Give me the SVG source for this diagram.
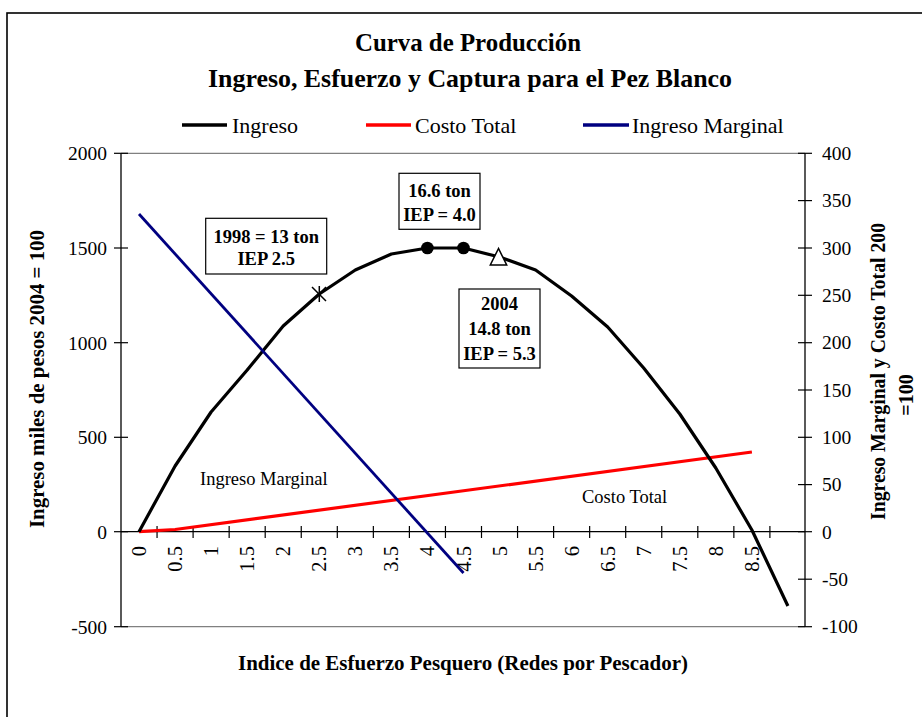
<svg xmlns="http://www.w3.org/2000/svg" width="922" height="717" viewBox="0 0 922 717">
<style>
text{font-family:"Liberation Serif","Times New Roman",serif;fill:#000}
.b{font-weight:bold}
.num{font-size:19.5px}
.xl{font-size:20.5px}
.lg{font-size:22px}
.box{fill:#fff;stroke:#000;stroke-width:1.2}
.bt{font-size:18.5px;font-weight:bold;text-anchor:middle}
.ax{stroke:#000;stroke-width:1.3;fill:none}
.gr{stroke:#808080;stroke-width:1.3;fill:none}
.tk{stroke:#000;stroke-width:1.2}
</style>
<rect x="7" y="13" width="930" height="730" fill="#fff" stroke="#000" stroke-width="1.6"/>
<g id="title">
<text class="b" x="468" y="51" font-size="25" text-anchor="middle" textLength="226" lengthAdjust="spacingAndGlyphs">Curva de Producción</text>
<text class="b" x="470" y="87" font-size="25" text-anchor="middle" textLength="524" lengthAdjust="spacingAndGlyphs">Ingreso, Esfuerzo y Captura para el Pez Blanco</text>
</g>
<g id="legend">
<line x1="182" y1="125" x2="227" y2="125" stroke="#000" stroke-width="3.5"/>
<text class="lg" x="232" y="133">Ingreso</text>
<line x1="366" y1="125" x2="411" y2="125" stroke="#ff0000" stroke-width="3.5"/>
<text class="lg" x="415" y="133">Costo Total</text>
<line x1="583" y1="125" x2="629" y2="125" stroke="#000080" stroke-width="3.5"/>
<text class="lg" x="632" y="133">Ingreso Marginal</text>
</g>
<g id="plot-frame">
<line class="gr" x1="121" y1="153.3" x2="805" y2="153.3"/>
<line class="gr" x1="121" y1="626.7" x2="805" y2="626.7"/>
<line class="ax" x1="121" y1="153.3" x2="121" y2="626.7"/>
<line class="ax" x1="805" y1="153.3" x2="805" y2="626.7"/>
<line class="ax" x1="121" y1="531.7" x2="805" y2="531.7"/>
</g>
<g id="left-axis">
<g class="tk">
<line x1="114" y1="153.3" x2="128" y2="153.3"/>
<line x1="114" y1="248" x2="128" y2="248"/>
<line x1="114" y1="342.7" x2="128" y2="342.7"/>
<line x1="114" y1="437.3" x2="128" y2="437.3"/>
<line x1="114" y1="531.7" x2="128" y2="531.7"/>
<line x1="114" y1="626.7" x2="128" y2="626.7"/>
</g>
<g class="num" text-anchor="end">
<text x="107" y="160">2000</text>
<text x="107" y="255">1500</text>
<text x="107" y="349.5">1000</text>
<text x="107" y="444">500</text>
<text x="107" y="538.5">0</text>
<text x="107" y="633.5">-500</text>
</g>
<text class="b" font-size="20" text-anchor="middle" transform="translate(44,379) rotate(-90)" textLength="298" lengthAdjust="spacingAndGlyphs">Ingreso miles de pesos 2004 = 100</text>
</g>
<g id="right-axis">
<g class="tk">
<line x1="798" y1="153.3" x2="812" y2="153.3"/>
<line x1="798" y1="200.6" x2="812" y2="200.6"/>
<line x1="798" y1="248" x2="812" y2="248"/>
<line x1="798" y1="295.3" x2="812" y2="295.3"/>
<line x1="798" y1="342.7" x2="812" y2="342.7"/>
<line x1="798" y1="390" x2="812" y2="390"/>
<line x1="798" y1="437.3" x2="812" y2="437.3"/>
<line x1="798" y1="484.6" x2="812" y2="484.6"/>
<line x1="798" y1="531.7" x2="812" y2="531.7"/>
<line x1="798" y1="579.2" x2="812" y2="579.2"/>
<line x1="798" y1="626.7" x2="812" y2="626.7"/>
</g>
<g class="num">
<text x="822" y="160">400</text>
<text x="822" y="207.3">350</text>
<text x="822" y="254.7">300</text>
<text x="822" y="302">250</text>
<text x="822" y="349.4">200</text>
<text x="822" y="396.7">150</text>
<text x="822" y="444">100</text>
<text x="822" y="491.3">50</text>
<text x="822" y="538.5">0</text>
<text x="822" y="585.9">-50</text>
<text x="822" y="633.4">-100</text>
</g>
<text class="b" font-size="20" transform="translate(885,520) rotate(-90)" textLength="297" lengthAdjust="spacingAndGlyphs">Ingreso Marginal y Costo Total 200</text>
<text class="b" font-size="20" text-anchor="middle" transform="translate(913,395) rotate(-90)">=100</text>
</g>
<g id="x-axis">
<g class="tk">
<line x1="157.05" y1="526" x2="157.05" y2="538"/>
<line x1="193.1" y1="526" x2="193.1" y2="538"/>
<line x1="229.15" y1="526" x2="229.15" y2="538"/>
<line x1="265.2" y1="526" x2="265.2" y2="538"/>
<line x1="301.25" y1="526" x2="301.25" y2="538"/>
<line x1="337.3" y1="526" x2="337.3" y2="538"/>
<line x1="373.35" y1="526" x2="373.35" y2="538"/>
<line x1="409.4" y1="526" x2="409.4" y2="538"/>
<line x1="445.45" y1="526" x2="445.45" y2="538"/>
<line x1="481.5" y1="526" x2="481.5" y2="538"/>
<line x1="517.55" y1="526" x2="517.55" y2="538"/>
<line x1="553.6" y1="526" x2="553.6" y2="538"/>
<line x1="589.65" y1="526" x2="589.65" y2="538"/>
<line x1="625.7" y1="526" x2="625.7" y2="538"/>
<line x1="661.75" y1="526" x2="661.75" y2="538"/>
<line x1="697.8" y1="526" x2="697.8" y2="538"/>
<line x1="733.85" y1="526" x2="733.85" y2="538"/>
<line x1="769.9" y1="526" x2="769.9" y2="538"/>
</g>
<g class="xl" text-anchor="end">
<text transform="translate(146,546) rotate(-90)">0</text>
<text transform="translate(182.1,546) rotate(-90)">0.5</text>
<text transform="translate(218.1,546) rotate(-90)">1</text>
<text transform="translate(254.2,546) rotate(-90)">1.5</text>
<text transform="translate(290.2,546) rotate(-90)">2</text>
<text transform="translate(326.3,546) rotate(-90)">2.5</text>
<text transform="translate(362.3,546) rotate(-90)">3</text>
<text transform="translate(398.4,546) rotate(-90)">3.5</text>
<text transform="translate(434.4,546) rotate(-90)">4</text>
<text transform="translate(470.5,546) rotate(-90)">4.5</text>
<text transform="translate(506.5,546) rotate(-90)">5</text>
<text transform="translate(542.6,546) rotate(-90)">5.5</text>
<text transform="translate(578.6,546) rotate(-90)">6</text>
<text transform="translate(614.7,546) rotate(-90)">6.5</text>
<text transform="translate(650.7,546) rotate(-90)">7</text>
<text transform="translate(686.8,546) rotate(-90)">7.5</text>
<text transform="translate(722.8,546) rotate(-90)">8</text>
<text transform="translate(758.9,546) rotate(-90)">8.5</text>
</g>
<text class="b" x="463" y="670" font-size="20" text-anchor="middle" textLength="450" lengthAdjust="spacingAndGlyphs">Indice de Esfuerzo Pesquero (Redes por Pescador)</text>
</g>
<g id="connectors">
<polyline id="costo-total" fill="none" stroke="#ff0000" stroke-width="3.2" stroke-linejoin="round" points="139,531.7 175.1,529.5 751.9,452"/>
<polyline id="ingreso" fill="none" stroke="#000" stroke-width="3.2" stroke-linejoin="round" points="139,531.7 175.1,466 211.1,412 247.2,370 283.2,326 319.3,294 355.3,270 391.4,254 427.4,248 463.5,248 499.5,257 535.6,270 571.6,296 607.7,327 643.7,368 679.8,414 715.8,468 751.9,530 787.9,606"/>
<line id="ingreso-marginal" x1="139" y1="214" x2="463.5" y2="573" stroke="#000080" stroke-width="2.8"/>
</g>
<g id="markers">
<g stroke="#000" stroke-width="1.5">
<line x1="312" y1="287" x2="326" y2="301"/>
<line x1="312" y1="301" x2="326" y2="287"/>
<line x1="319.3" y1="286" x2="319.3" y2="302"/>
</g>
<circle cx="427.4" cy="248" r="6.3" fill="#000"/>
<circle cx="463.5" cy="248" r="6.3" fill="#000"/>
<polygon points="498.5,248.5 490.3,265 506.7,265" fill="#fff" stroke="#000" stroke-width="1.5"/>
</g>
<g id="box-1998">
<rect class="box" x="205.7" y="218.3" width="121" height="55.7"/>
<text class="bt" x="266.2" y="242.7">1998 = 13 ton</text>
<text class="bt" x="266.2" y="265">IEP 2.5</text>
</g>
<g id="box-166">
<rect class="box" x="399" y="173.3" width="81" height="56"/>
<text class="bt" x="439.5" y="197.3">16.6 ton</text>
<text class="bt" x="439.5" y="220.7">IEP = 4.0</text>
</g>
<g id="box-2004">
<rect class="box" x="459" y="289" width="81" height="79"/>
<text class="bt" x="499.5" y="310">2004</text>
<text class="bt" x="499.5" y="335">14.8 ton</text>
<text class="bt" x="499.5" y="360">IEP = 5.3</text>
</g>
<g id="labels">
<text x="200" y="485" font-size="18.5">Ingreso Marginal</text>
<text x="582" y="503" font-size="18.5">Costo Total</text>
</g>
</svg>
